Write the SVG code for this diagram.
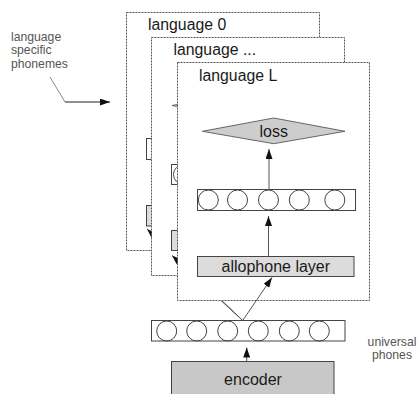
<svg xmlns="http://www.w3.org/2000/svg" width="419" height="394" viewBox="0 0 419 394">
<style>
  .frame{fill:#fff;stroke:#555;stroke-width:1;stroke-dasharray:2 1}
  .title{font-family:"Liberation Sans",Arial,sans-serif;font-size:15.8px;fill:#1a1a1a}
  .lbl{font-family:"Liberation Sans",Arial,sans-serif;font-size:16px;fill:#1a1a1a;text-anchor:middle}
  .note{font-family:"Liberation Sans",Arial,sans-serif;font-size:12.2px;fill:#555}
  .bar{fill:#fff;stroke:#444;stroke-width:1}
  .circ{fill:none;stroke:#444;stroke-width:1}
  .gray{fill:#dcdcdc;stroke:#444;stroke-width:1}
  .dark{fill:#c8c8c8;stroke:#444;stroke-width:1}
  .dia{fill:#cdcdcd;stroke:#666;stroke-width:1}
  .conn{fill:none;stroke:#555;stroke-width:1;marker-end:url(#ah)}
</style>
<defs>
  <marker id="ah" markerUnits="userSpaceOnUse" markerWidth="10" markerHeight="7" refX="10" refY="3.5" orient="auto">
    <path d="M0,0 L10,3.5 L0,7 z" fill="#111"/>
  </marker>
  <clipPath id="vis0"><rect x="0" y="0" width="151.5" height="394"/><rect x="0" y="301" width="419" height="93"/></clipPath>
  <clipPath id="vis1"><rect x="0" y="0" width="177.5" height="394"/><rect x="0" y="301" width="419" height="93"/></clipPath>
</defs>

<g id="frame-language-0">
  <rect class="frame" x="126.5" y="12.5" width="193" height="238"/>
  <text class="title" x="148" y="29.5">language 0</text>
  <rect class="bar" x="146.5" y="138.5" width="158" height="21"/>
  <rect class="gray" x="146.5" y="205.5" width="156.5" height="20.5"/>
</g>

<g id="frame-language-dots">
  <rect class="frame" x="151.5" y="37.5" width="193" height="238"/>
  <text class="title" x="173.5" y="55">language ...</text>
  <polygon class="dia" points="172,105.5 243.5,92.5 315,105.5 243.5,118"/>
  <rect class="bar" x="171.5" y="164.5" width="158" height="20"/>
  <circle class="circ" cx="183.5" cy="174.5" r="10"/>
  <rect class="gray" x="171.5" y="230.5" width="156.5" height="20"/>
</g>

<g id="frame-language-L">
  <rect class="frame" x="177.5" y="62.5" width="192" height="238"/>
  <text class="title" x="199" y="80.5">language L</text>
</g>

<g id="loss">
  <polygon class="dia" points="202.3,131.3 273.7,118 345,131.3 273.7,143.7"/>
  <text class="lbl" x="273.7" y="136.5">loss</text>
</g>

<g id="language-phones">
  <rect class="bar" x="197.5" y="189.5" width="158" height="21"/>
  <circle class="circ" cx="208.3" cy="200" r="10"/>
  <circle class="circ" cx="237.5" cy="200" r="10"/>
  <circle class="circ" cx="268.5" cy="200" r="10"/>
  <circle class="circ" cx="299.3" cy="200" r="10"/>
  <circle class="circ" cx="334.8" cy="200" r="10"/>
</g>

<g id="allophone-layer">
  <rect class="gray" x="197.5" y="256.5" width="156.5" height="20"/>
  <text class="lbl" x="275.8" y="272">allophone layer</text>
</g>

<g id="universal-phones">
  <rect class="bar" x="151.5" y="320.5" width="193.5" height="20.5"/>
  <circle class="circ" cx="166.7" cy="331" r="10"/>
  <circle class="circ" cx="196.7" cy="331" r="10"/>
  <circle class="circ" cx="227.7" cy="331" r="10"/>
  <circle class="circ" cx="258.3" cy="331" r="10"/>
  <circle class="circ" cx="289.3" cy="331" r="10"/>
  <circle class="circ" cx="319.3" cy="331" r="10"/>
</g>

<g id="encoder">
  <rect class="dark" x="171.5" y="361.5" width="162.5" height="40"/>
  <text class="lbl" x="253" y="385">encoder</text>
</g>

<g id="note-language-specific">
  <text class="note" x="11" y="40.5">language</text>
  <text class="note" x="11" y="54">specific</text>
  <text class="note" x="11" y="67.5">phonemes</text>
</g>

<g id="note-universal">
  <text class="note" x="392" y="345.5" text-anchor="middle">universal</text>
  <text class="note" x="392" y="358.5" text-anchor="middle">phones</text>
</g>

<g id="connectors">
  <line class="conn" x1="246.7" y1="361.5" x2="246.7" y2="347.5"/>
  <line class="conn" x1="242.7" y1="320.5" x2="272" y2="277.5"/>
  <line class="conn" x1="268.5" y1="256.5" x2="268.5" y2="216"/>
  <line class="conn" x1="269" y1="189.5" x2="269" y2="149"/>
  <g clip-path="url(#vis0)"><line class="conn" x1="242.7" y1="320.5" x2="147" y2="229"/></g>
  <g clip-path="url(#vis1)"><line class="conn" x1="242.7" y1="320.5" x2="172" y2="255.5"/></g>
  <line x1="50" y1="77" x2="65" y2="102" stroke="#888" stroke-width="1"/>
  <line x1="65" y1="102" x2="110" y2="102" stroke="#222" stroke-width="1" marker-end="url(#ah)"/>
</g>
</svg>
